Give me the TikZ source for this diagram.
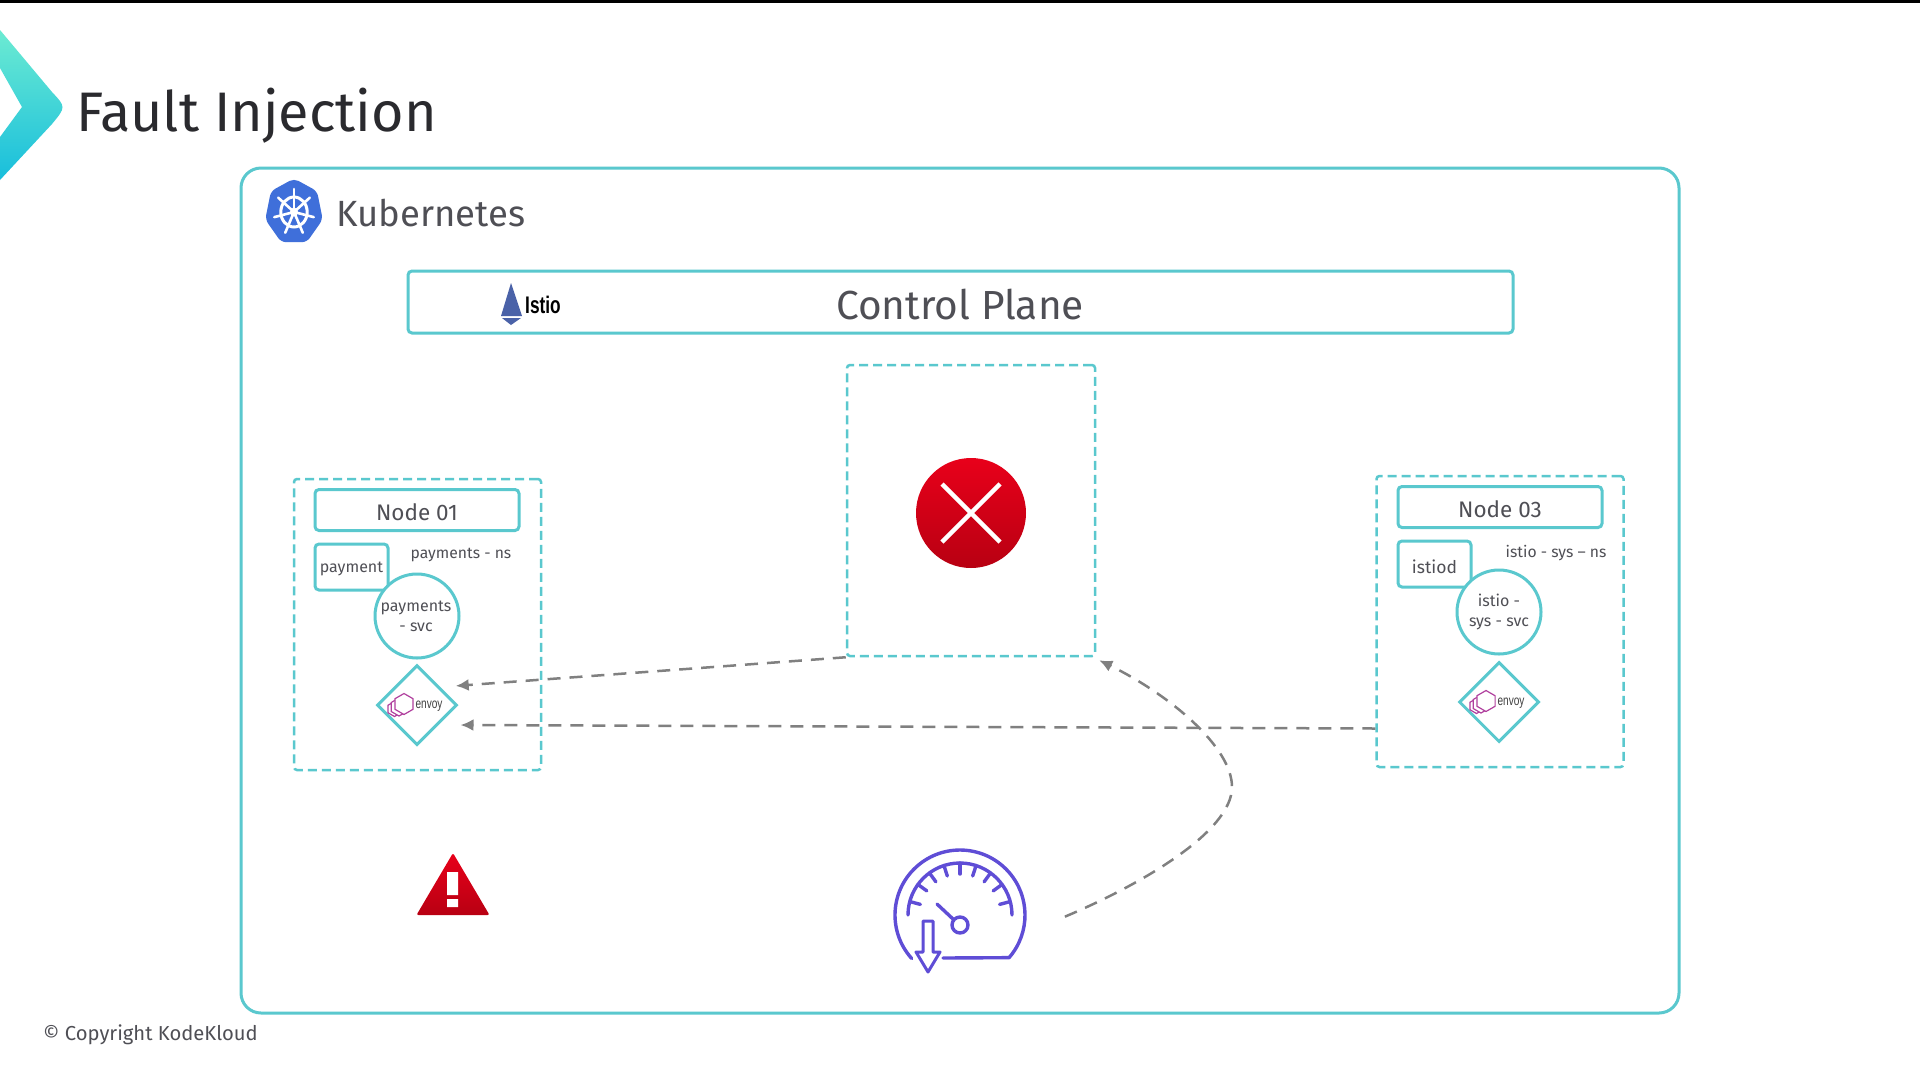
\documentclass[tikz,border=0pt]{standalone}
\usepackage{fontspec}
\usepackage{graphicx}
\usetikzlibrary{arrows.meta,shapes.geometric,calc}
\setmainfont{Fira Sans}
\newfontfamily\logofont{Liberation Sans}
\definecolor{teal1}{HTML}{5AC8CE}
\definecolor{txt}{HTML}{4F4F55}
\definecolor{titletxt}{HTML}{2A2A2E}
\definecolor{arrowgray}{HTML}{808080}
\definecolor{envoymag}{HTML}{B0409E}
\definecolor{gaugepurple}{HTML}{5F4DD6}
\definecolor{kblue}{HTML}{3F6FDA}
\definecolor{sail}{HTML}{4A62A8}
\definecolor{chevtop}{HTML}{6CEBD2}
\definecolor{chevbot}{HTML}{18BEDC}
\definecolor{redtop}{HTML}{E8001A}
\definecolor{redbot}{HTML}{B80012}
\tikzset{
  panel/.style={draw=teal1,line width=3pt,rounded corners=4pt,fill=white,inner sep=0pt},
  zone/.style={draw=teal1,line width=2.5pt,dash pattern=on 9pt off 5pt,rounded corners=3pt,inner sep=0pt},
  svc/.style={circle,draw=teal1,line width=3pt,fill=white,minimum size=84pt,inner sep=0pt,align=center,text=txt,font=\fontsize{16}{20}\selectfont},
  proxy/.style={diamond,draw=teal1,line width=3pt,fill=white,minimum width=80pt,minimum height=80pt,inner sep=0pt},
  label/.style={text=txt,inner sep=0pt},
  flow/.style={draw=arrowgray,line width=2.5pt,dash pattern=on 13pt off 9pt,-{Latex[length=13pt,width=12pt]}},
}
\newcommand\envoylogo[1]{%
  \begin{scope}[shift={(#1)},y=1pt,x=1pt]
    \foreach \cx/\cy/\r in {-22.5/-4/7.5,-18/-2/9,-13/1/10.5}{
      \draw[envoymag,line width=1.2pt,fill=white] (\cx,\cy) ++(90:\r) -- ++(-30:\r) -- ++(-90:\r) -- ++(-150:\r) -- ++(150:\r) -- ++(90:\r) -- cycle;
    }
    \node[inner sep=0pt,text=black!75] at (12,-1) {\logofont\fontsize{14}{15}\selectfont\scalebox{0.72}[1]{envoy}};
  \end{scope}%
}
\begin{document}
\begin{tikzpicture}[x=1pt,y=-1pt]
\useasboundingbox (0,0) rectangle (1920,1080);
\fill[white] (0,0) rectangle (1920,1080);
\fill[black] (0,0) rectangle (1920,3);
% chevron
\shade[top color=chevtop,bottom color=chevbot] (0,30) -- (52,92) .. controls (66,107) .. (52,124) -- (0,180) -- (0,137) -- (22,107) -- (0,68) -- cycle;
\node[anchor=west,inner sep=0pt,text=titletxt,font=\fontsize{55.7}{60}\selectfont] (title) at (76,116) {Fault Injection};
% outer
\node[panel,rounded corners=20pt,minimum width=1438pt,minimum height=845pt] (k8sbox) at (960,590.5) {};
% k8s logo
\begin{scope}[shift={(294,212)},y=1pt,x=0.88pt]
  \fill[kblue,rounded corners=5pt] (90:33.5) -- (141.4:33.5) -- (192.9:33.5) -- (244.3:33.5) -- (295.7:33.5) -- (347.1:33.5) -- (38.6:33.5) -- cycle;
  \draw[white,line width=3pt] (0,0) circle (15);
  \foreach \a in {90,141.4,192.9,244.3,295.7,347.1,38.6}{
    \draw[white,line width=2.6pt,line cap=round] (\a:3) -- (\a:23);
  }
  \fill[white] (0,0) circle (4.5);
\end{scope}
\node[anchor=west,label,font=\fontsize{36.5}{40}\selectfont] (k8stext) at (336,213) {Kubernetes};
% control plane
\node[panel,minimum width=1105pt,minimum height=62pt] (cp) at (960.5,302) {};
\fill[sail] (511,283) -- (522,316) -- (501,316) -- cycle;
\fill[sail] (502,318) -- (521,318) -- (511,325) -- cycle;
\node[anchor=west,inner sep=0pt,text=black] (istio) at (525,305) {\logofont\bfseries\fontsize{24}{26}\selectfont\scalebox{0.72}[1]{Istio}};
\node[label,font=\fontsize{40.6}{44}\selectfont] (cptext) at (960,305) {Control Plane};
% fault zone
\node[zone,minimum width=248pt,minimum height=291pt] (fz) at (971,510.5) {};
\shade[top color=redtop,bottom color=redbot] (971,513) circle (55);
\draw[white,line width=4.5pt] (942,484) -- (1000,542) (1000,484) -- (942,542);
% node 01
\node[zone,minimum width=247pt,minimum height=291pt] (n1) at (417.5,624.5) {};
\node[panel,minimum width=204pt,minimum height=41pt,text=txt,font=\fontsize{22.5}{24}\selectfont,text height=20.4pt,text depth=0pt] (n1t) at (417,510) {Node 01};
\node[panel,minimum width=73pt,minimum height=46pt,text=txt,font=\fontsize{16}{18}\selectfont,text height=10pt,text depth=0pt] (pay) at (351.5,567) {payment};
\node[label,font=\fontsize{15.7}{18}\selectfont] (payns) at (461,555) {payments - ns};
\node[svc] (paysvc) at (417,616) {\hspace*{-2pt}payments\\\hspace*{-2pt}- svc};
\node[proxy] (env1) at (417,705) {};
\envoylogo{417,705}
% node 03
\node[zone,minimum width=247pt,minimum height=291pt] (n3) at (1500,621.5) {};
\node[panel,minimum width=204pt,minimum height=41pt,text=txt,font=\fontsize{22.5}{24}\selectfont,text height=20.4pt,text depth=0pt] (n3t) at (1500,507) {Node 03};
\node[panel,minimum width=73pt,minimum height=46pt,text=txt,font=\fontsize{17.5}{20}\selectfont,text height=18pt,text depth=0pt] (istiod) at (1434.5,564) {istiod};
\node[label,font=\fontsize{15.7}{18}\selectfont] (sysns) at (1556,553) {istio - sys -- ns};
\node[svc] (syssvc) at (1499,612) {istio -\\sys - svc};
\node[proxy] (env3) at (1499,702) {};
\envoylogo{1499,702}
% warning
\node[minimum width=73pt,minimum height=62pt,inner sep=0pt] (warn) at (453,884) {};
\shade[top color=redtop,bottom color=redbot,rounded corners=2pt] (453,853) -- (489.5,915) -- (416.5,915) -- cycle;
\fill[white] (447,872) rectangle (458,895) (447,899) rectangle (458,907);
% gauge
\node[minimum width=132pt,minimum height=122pt,inner sep=0pt] (gauge) at (960,911) {};
\begin{scope}[shift={(960,915)},y=1pt,draw=gaugepurple,line width=3.4pt,line cap=round,line join=round]
  \draw (222:65) arc[start angle=222,end angle=-41,radius=65] -- (-17,-43);
  \draw (180:52) arc[start angle=180,end angle=0,radius=52];
  \foreach \a in {15,36,54,72,90,108,126,144,165}{
    \draw (\a:52) -- (\a:41);
  }
  \draw (0,-10) circle (8);
  \draw (-23,11) -- (-7,-4);
  \draw[line width=3pt,fill=white] (-37,-6) -- (-37,-37) -- (-44,-37) -- (-32,-57) -- (-20,-37) -- (-27,-37) -- (-27,-6) -- cycle;
\end{scope}
% connectors
\draw[flow,shorten >=18pt] (fz.south west) -- ([yshift=-3pt]env1.north east);
\draw[flow,shorten >=2pt] ([yshift=-107pt]n3.west) -- ([yshift=-20pt]env1.east);
\draw[flow,shorten <=42pt] ([yshift=-22pt]gauge.east) .. controls (1140,885) and (1232,832) .. (1232,787) .. controls (1232,747) and (1170,695) .. ([xshift=3pt,yshift=-3pt]fz.south east);
% footer
\node[anchor=west,label,font=\fontsize{20.2}{22}\selectfont] (copy) at (43,1035) {© Copyright KodeKloud};
\end{tikzpicture}
\end{document}
